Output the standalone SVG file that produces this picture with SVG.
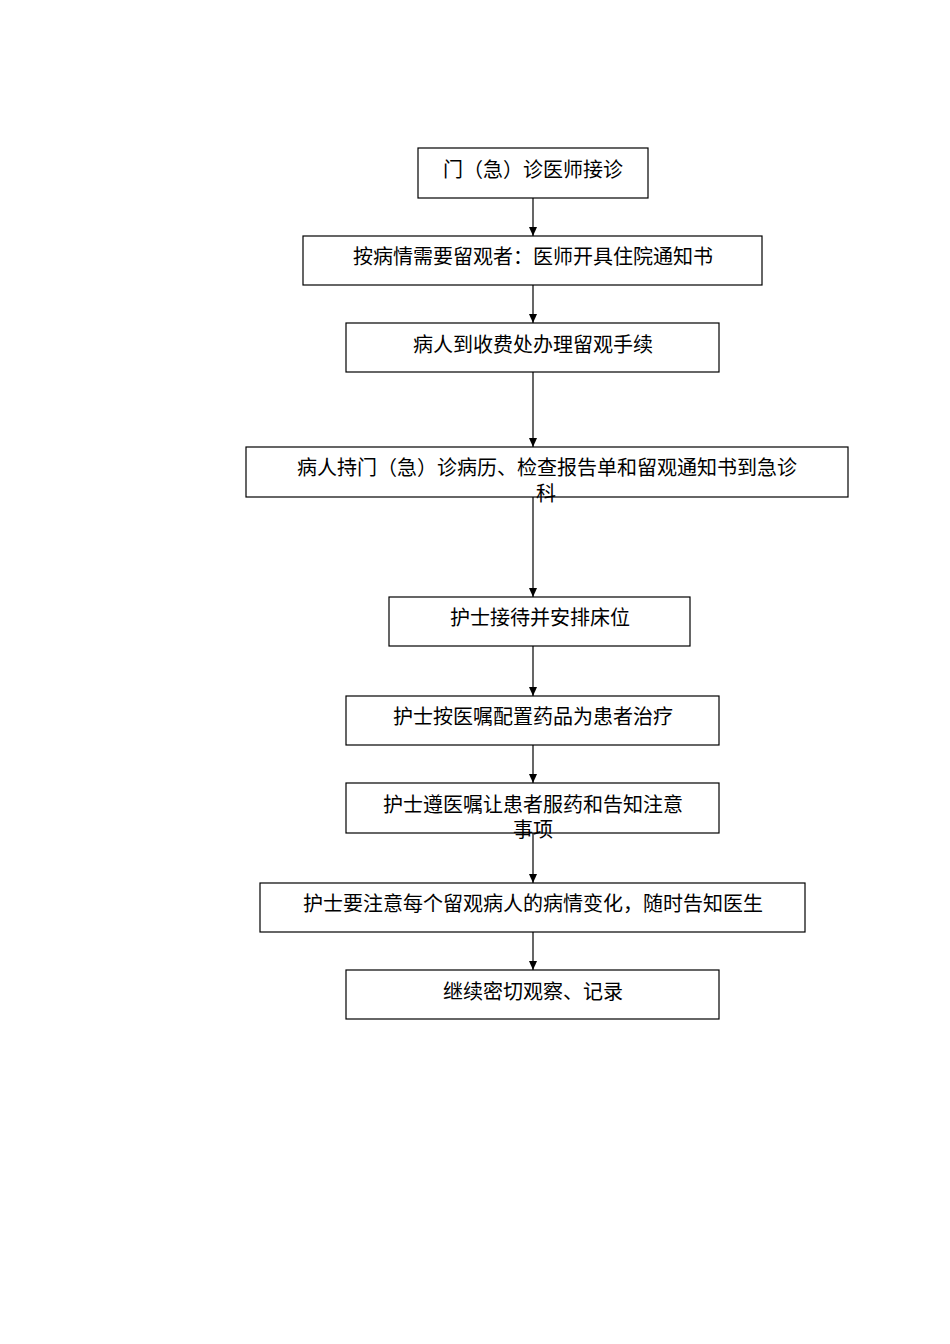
<svg xmlns="http://www.w3.org/2000/svg" width="950" height="1344" viewBox="0 0 950 1344">
<style>
rect{fill:#fff;stroke:#000;stroke-width:1.2}
text{font-family:"Liberation Serif","Noto Sans CJK SC",serif;font-size:20px;text-anchor:middle;fill:#000}
.c line{stroke:#000;stroke-width:1.2;marker-end:url(#a)}
</style>
<defs><marker id="a" markerWidth="10" markerHeight="10" refX="9" refY="5" orient="auto" markerUnits="userSpaceOnUse"><path d="M0,1 L9,5 L0,9 Z" fill="#000"/></marker></defs>
<rect width="950" height="1344" style="stroke:none"/>
<g class="c">
<line x1="533" y1="198" x2="533" y2="236"/>
<line x1="533" y1="285" x2="533" y2="323"/>
<line x1="533" y1="372" x2="533" y2="447"/>
<line x1="533" y1="497" x2="533" y2="597"/>
<line x1="533" y1="646" x2="533" y2="696"/>
<line x1="533" y1="745" x2="533" y2="783"/>
<line x1="533" y1="833" x2="533" y2="883"/>
<line x1="533" y1="932" x2="533" y2="970"/>
</g>
<g id="n1"><rect x="418" y="148" width="230" height="50"/><text x="533" y="177">门（急）诊医师接诊</text></g>
<g id="n2"><rect x="303" y="236" width="459" height="49"/><text x="533" y="264">按病情需要留观者：医师开具住院通知书</text></g>
<g id="n3"><rect x="346" y="323" width="373" height="49"/><text x="533" y="352">病人到收费处办理留观手续</text></g>
<g id="n4"><rect x="246" y="447" width="602" height="50"/><text x="547" y="475">病人持门（急）诊病历、检查报告单和留观通知书到急诊</text><text x="546" y="501">科</text></g>
<g id="n5"><rect x="389" y="597" width="301" height="49"/><text x="540" y="625">护士接待并安排床位</text></g>
<g id="n6"><rect x="346" y="696" width="373" height="49"/><text x="533" y="724">护士按医嘱配置药品为患者治疗</text></g>
<g id="n7"><rect x="346" y="783" width="373" height="50"/><text x="533" y="812">护士遵医嘱让患者服药和告知注意</text><text x="533" y="837">事项</text></g>
<g id="n8"><rect x="260" y="883" width="545" height="49"/><text x="533" y="911">护士要注意每个留观病人的病情变化，随时告知医生</text></g>
<g id="n9"><rect x="346" y="970" width="373" height="49"/><text x="533" y="999">继续密切观察、记录</text></g>
</svg>
